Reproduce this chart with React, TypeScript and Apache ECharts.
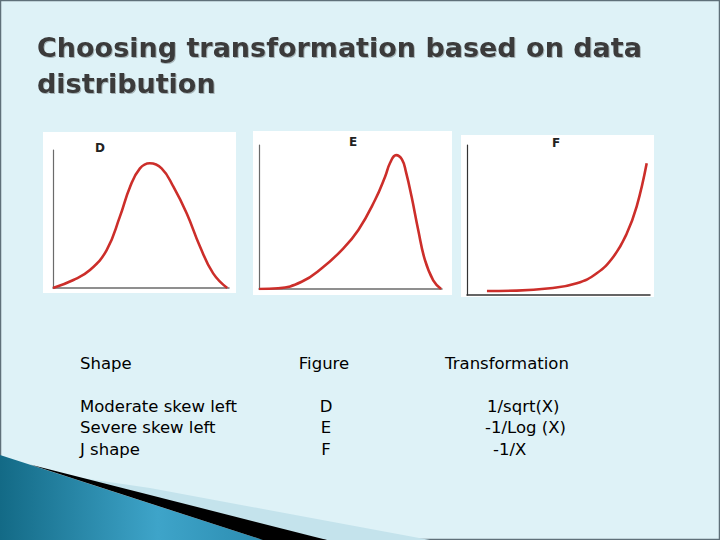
import React, { useEffect, useRef } from "react";
import * as echarts from "echarts";

// Curve D: moderate skew left
const xD = [0, 11.6, 21, 30.5, 38, 43.7, 49.4, 55, 61.7, 68.4, 76, 83.5, 91, 99];
const yD = [0, 5.8, 13, 27.5, 51.7, 73, 86.7, 90.4, 86.7, 73.4, 54, 30, 10.6, 0];
// Curve E: severe skew left
const xE = [0, 10.5, 23.3, 34.3, 45.2, 54.3, 63.4, 68.9, 71.6, 74.9, 78.1, 80.3, 83.4, 87, 90.7, 95.2, 99.5];
const yE = [0, 0.5, 5, 14.4, 27, 41, 61.8, 78, 87.5, 93, 90, 81.3, 64, 41, 20, 6, 0];
// Curve F: J shape
const xF = [10.9, 27.3, 45.4, 60, 70.9, 80, 87.3, 92.7, 98.2];
const yF = [2.7, 2.9, 4.5, 7.8, 14.5, 25.5, 41, 58.9, 87.8];

const titleLines = ["Choosing transformation based on data", "distribution"];
const headers = ["Shape", "Figure", "Transformation"];
const shapes = ["Moderate skew left", "Severe skew left", "J shape"];
const figures = ["D", "E", "F"];
const transforms = ["1/sqrt(X)", "-1/Log (X)", "-1/X"];

const pairs = (xs: number[], ys: number[]) => xs.map((x, i) => [x, ys[i]]);

export default function App() {
  const ref = useRef<HTMLDivElement>(null);
  useEffect(() => {
    if (!ref.current) return;
    const chart = echarts.init(ref.current, null, { renderer: "svg" });
    const font = "DejaVu Sans";
    const grids = [
      { left: 53, top: 150, width: 176, height: 138 },
      { left: 259, top: 145, width: 183, height: 144 },
      { left: 467, top: 145, width: 183, height: 150 },
    ];
    const axisColors = ["#6b6b6b", "#6b6b6b", "#333333"];
    const xAxes = grids.map((_, i) => ({
      type: "value", gridIndex: i, min: 0, max: 100, z: 10,
      axisLine: { show: true, lineStyle: { color: axisColors[i], width: 1.5 } },
      axisTick: { show: false }, axisLabel: { show: false }, splitLine: { show: false },
    }));
    const yAxes = grids.map((_, i) => ({
      type: "value", gridIndex: i, min: 0, max: 100, z: 10,
      axisLine: { show: true, lineStyle: { color: axisColors[i], width: 1.2 } },
      axisTick: { show: false }, axisLabel: { show: false }, splitLine: { show: false },
    }));
    const curveData = [pairs(xD, yD), pairs(xE, yE), pairs(xF, yF)];
    const series = curveData.map((d, i) => ({
      type: "line", xAxisIndex: i, yAxisIndex: i, data: d, smooth: 0.45,
      showSymbol: false, z: 12,
      lineStyle: { color: "#cc2e2a", width: 2.6 },
    }));

    const bodyText = (text: string, x: number, y: number, align = "left") => ({
      type: "text", x, y, z: 30,
      style: { text, fill: "#000", font: `16.5px "${font}"`, textAlign: align, textVerticalAlign: "middle" },
    });
    const rowsY = [406, 427.5, 449];

    const graphic: any[] = [
      { type: "rect", z: -20, shape: { x: 0.5, y: 0.5, width: 719, height: 539 }, style: { fill: "#def2f7", stroke: "#5f7079", lineWidth: 1.5 } },
      { type: "polygon", z: -15, shape: { points: [[40, 472], [150, 488], [430, 540], [327, 540]] }, style: { fill: "#c4e3ec" } },
      { type: "polygon", z: -14, shape: { points: [[0, 455], [263, 540], [0, 540]] },
        style: { fill: new echarts.graphic.LinearGradient(0, 0, 1, 0, [
          { offset: 0, color: "#136a86" }, { offset: 0.6, color: "#3ea4c9" }, { offset: 1, color: "#2c8db1" }]) } },
      { type: "polygon", z: -13, shape: { points: [[30, 464.5], [327, 540], [263, 540]] }, style: { fill: "#000" } },
      { type: "rect", z: -10, shape: { x: 43, y: 132, width: 193, height: 161 }, style: { fill: "#ffffff" } },
      { type: "rect", z: -10, shape: { x: 253, y: 131, width: 199, height: 164 }, style: { fill: "#ffffff" } },
      { type: "rect", z: -10, shape: { x: 461, y: 135, width: 193, height: 162 }, style: { fill: "#ffffff" } },
      { type: "text", x: 100, y: 148, z: 30, style: { text: "D", fill: "#222", font: `bold 12px "${font}"`, textAlign: "center", textVerticalAlign: "middle" } },
      { type: "text", x: 353, y: 142, z: 30, style: { text: "E", fill: "#222", font: `bold 12px "${font}"`, textAlign: "center", textVerticalAlign: "middle" } },
      { type: "text", x: 556, y: 143, z: 30, style: { text: "F", fill: "#222", font: `bold 12px "${font}"`, textAlign: "center", textVerticalAlign: "middle" } },
      ...titleLines.map((t, i) => ({
        type: "text", x: 37, y: 47 + i * 36, z: 30,
        style: { text: t, fill: "#3b3b3b", font: `bold 27px "${font}"`, textAlign: "left", textVerticalAlign: "middle",
          textShadowColor: "rgba(0,0,0,0.25)", textShadowOffsetX: 1, textShadowOffsetY: 1, textShadowBlur: 1 },
      })),
      bodyText(headers[0], 80, 363),
      bodyText(headers[1], 324, 363, "center"),
      bodyText(headers[2], 507, 363, "center"),
      ...shapes.map((s, i) => bodyText(s, 80, rowsY[i])),
      ...figures.map((s, i) => bodyText(s, 326, rowsY[i], "center")),
      ...transforms.map((s, i) => bodyText(s, [487, 485, 493][i], rowsY[i])),
    ];

    chart.setOption({
      animation: false,
      backgroundColor: "#def2f7",
      grid: grids,
      xAxis: xAxes,
      yAxis: yAxes,
      series,
      graphic,
    } as any);
    return () => chart.dispose();
  }, []);
  return <div ref={ref} style={{ position: "fixed", left: 0, top: 0, width: 720, height: 540 }} />;
}
